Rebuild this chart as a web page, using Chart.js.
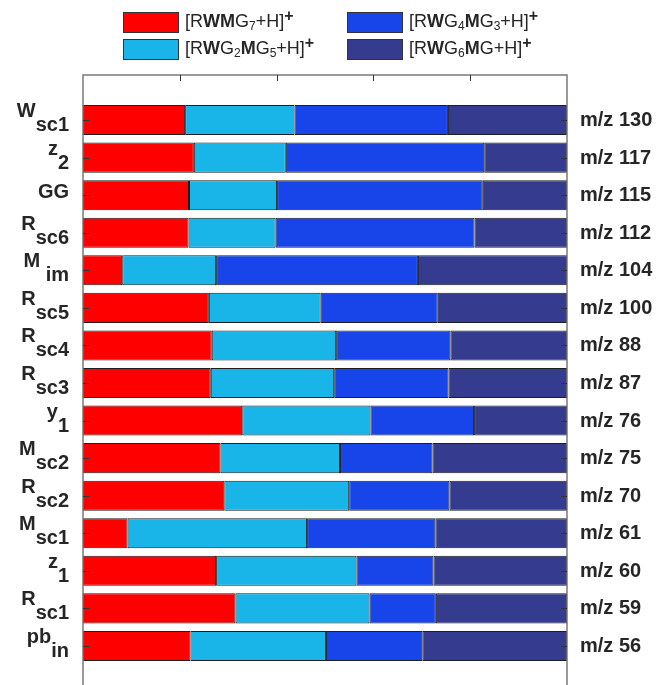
<!DOCTYPE html>
<html>
<head>
<meta charset="utf-8">
<script src="https://cdn.jsdelivr.net/npm/chart.js@4.4.1/dist/chart.umd.min.js"></script>
<style>
  html, body { margin: 0; padding: 0; background: #fff; overflow: hidden; }
  canvas { display: block; }
</style>
</head>
<body>
<canvas id="chartCanvas" width="657" height="700"></canvas>
<script>
// --- Data ---
const rowLabels = ["W<sub>sc1</sub>", "z<sub>2</sub>", "GG", "R<sub>sc6</sub>", "M <sub>im</sub>",
  "R<sub>sc5</sub>", "R<sub>sc4</sub>", "R<sub>sc3</sub>", "y<sub>1</sub>", "M<sub>sc2</sub>",
  "R<sub>sc2</sub>", "M<sub>sc1</sub>", "z<sub>1</sub>", "R<sub>sc1</sub>", "pb<sub>in</sub>"];
const massLabels = ["m/z 130", "m/z 117", "m/z 115", "m/z 112", "m/z 104", "m/z 100", "m/z 88",
  "m/z 87", "m/z 76", "m/z 75", "m/z 70", "m/z 61", "m/z 60", "m/z 59", "m/z 56"];

const seriesNames = ["[RWMG7+H]+", "[RWG2MG5+H]+", "[RWG4MG3+H]+", "[RWG6MG+H]+"];
const seriesRich = [
  "[R<b>WM</b>G<sub>7</sub>+H]<sup>+</sup>",
  "[R<b>W</b>G<sub>2</sub><b>M</b>G<sub>5</sub>+H]<sup>+</sup>",
  "[R<b>W</b>G<sub>4</sub><b>M</b>G<sub>3</sub>+H]<sup>+</sup>",
  "[R<b>W</b>G<sub>6</sub><b>M</b>G+H]<sup>+</sup>"
];
const seriesColors = ["#ff0000", "#19b4e8", "#1845ea", "#353b8f"];

// percent share of each fragment (rows top to bottom)
const wmg7   = [21.1, 22.9, 21.9, 21.8,  8.1, 26.0, 26.6, 26.4, 32.9, 28.4, 29.2,  9.2, 27.5, 31.5, 22.2];
const wg2mg5 = [22.6, 19.0, 18.2, 18.0, 19.4, 23.1, 25.7, 25.5, 26.5, 24.7, 25.8, 37.1, 29.0, 27.7, 28.0];
const wg4mg3 = [31.7, 41.0, 42.5, 41.1, 41.7, 24.2, 23.6, 23.6, 21.4, 19.1, 20.7, 26.5, 15.9, 13.7, 19.9];
const wg6mg  = [24.6, 17.1, 17.4, 19.1, 30.8, 26.7, 24.1, 24.5, 19.2, 27.8, 24.3, 27.2, 27.6, 27.1, 29.9];
const xTicks = [20, 40, 60, 80];

const FONT = "'Liberation Sans', Arial, sans-serif";

// --- Rich text helper (bold / sub / sup) ---
function parseRich(str) {
  const parts = [];
  let bold = false, sub = false, sup = false;
  str.split(/(<\/?(?:b|sub|sup)>)/).forEach(tok => {
    if (tok === "<b>") bold = true;
    else if (tok === "</b>") bold = false;
    else if (tok === "<sub>") sub = true;
    else if (tok === "</sub>") sub = false;
    else if (tok === "<sup>") sup = true;
    else if (tok === "</sup>") sup = false;
    else if (tok) parts.push({ t: tok, bold, sub, sup });
  });
  return parts;
}

function drawRich(ctx, parts, x, y, st, measureOnly) {
  let cx = x;
  parts.forEach(p => {
    const size = p.sub ? st.subSize : p.sup ? st.supSize : st.size;
    const weight = (p.bold || st.allBold || p.sup) ? "bold" : "normal";
    ctx.font = weight + " " + size + "px " + FONT;
    const dy = p.sub ? st.subDy : p.sup ? st.supDy : 0;
    if (!measureOnly) ctx.fillText(p.t, cx, y + dy);
    cx += ctx.measureText(p.t).width;
  });
  return cx - x;
}

// --- Plugin: frame, inward ticks, row labels, legend ---
const decorPlugin = {
  id: "decor",
  afterDatasetsDraw(chart) {
    const { ctx, chartArea: a, scales } = chart;
    ctx.save();

    // frame
    ctx.strokeStyle = "#7a7a7a";
    ctx.lineWidth = 1.5;
    ctx.strokeRect(a.left, a.top, a.right - a.left, a.bottom - a.top);

    // ticks
    ctx.strokeStyle = "#333";
    ctx.lineWidth = 1;
    ctx.beginPath();
    xTicks.forEach(v => {
      const px = Math.round(scales.x.getPixelForValue(v)) + 0.5;
      ctx.moveTo(px, a.top); ctx.lineTo(px, a.top + 6);
      ctx.moveTo(px, a.bottom); ctx.lineTo(px, a.bottom - 6);
    });
    rowLabels.forEach((_, i) => {
      const py = Math.round(scales.y.getPixelForValue(i + 1)) + 0.5;
      ctx.moveTo(a.left, py); ctx.lineTo(a.left + 6, py);
      ctx.moveTo(a.right, py); ctx.lineTo(a.right - 6, py);
    });
    ctx.stroke();

    // left row labels
    ctx.fillStyle = "#262626";
    ctx.textBaseline = "alphabetic";
    ctx.textAlign = "left";
    const rowStyle = { size: 20, subSize: 20, supSize: 14, subDy: 14, supDy: -7, allBold: true };
    rowLabels.forEach((lab, i) => {
      const parts = parseRich(lab);
      const hasSub = parts.some(p => p.sub);
      const py = scales.y.getPixelForValue(i + 1);
      const base = hasSub ? py - 3 : py + 3;
      const w = drawRich(ctx, parts, 0, 0, rowStyle, true);
      drawRich(ctx, parts, a.left - 14 - w, base, rowStyle, false);
    });

    // right m/z labels
    ctx.font = "bold 20px " + FONT;
    massLabels.forEach((lab, i) => {
      ctx.fillText(lab, a.right + 13, scales.y.getPixelForValue(i + 1) + 6);
    });

    // legend (2 x 2)
    const legStyle = { size: 18, subSize: 12, supSize: 16, subDy: 3, supDy: -6, allBold: false };
    const cols = [123, 347], rows = [12, 39];
    chart.data.datasets.forEach((ds, i) => {
      const bx = cols[Math.floor(i / 2)], by = rows[i % 2];
      ctx.fillStyle = ds.backgroundColor;
      ctx.fillRect(bx, by, 55, 20);
      ctx.strokeStyle = "#333";
      ctx.lineWidth = 1;
      ctx.strokeRect(bx + 0.5, by + 0.5, 55, 20);
      ctx.fillStyle = "#262626";
      drawRich(ctx, parseRich(seriesRich[i]), bx + 62, by + 15, legStyle, false);
    });

    ctx.restore();
  }
};

const valueSets = [wmg7, wg2mg5, wg4mg3, wg6mg];

const cfg = {
  type: "bar",
  data: {
    datasets: valueSets.map((vals, s) => ({
      label: seriesNames[s],
      data: vals.map((v, i) => ({ x: v, y: i + 1 })),
      backgroundColor: seriesColors[s],
      borderColor: "#1e1e1e",
      borderWidth: 1,
      borderSkipped: false,
      barPercentage: 0.8,
      categoryPercentage: 1.0
    }))
  },
  options: {
    indexAxis: "y",
    responsive: false,
    animation: false,
    devicePixelRatio: 1,
    layout: { padding: { left: 83, right: 90, top: 75, bottom: 9 } },
    plugins: {
      legend: { display: false },
      tooltip: { enabled: false }
    },
    scales: {
      x: { type: "linear", stacked: true, min: 0, max: 100, offset: false, display: false },
      y: { type: "linear", stacked: true, reverse: true, min: -0.2, max: 16.2, offset: false, display: false }
    }
  },
  plugins: [decorPlugin]
};

new Chart(document.getElementById("chartCanvas").getContext("2d"), cfg);
</script>
</body>
</html>
